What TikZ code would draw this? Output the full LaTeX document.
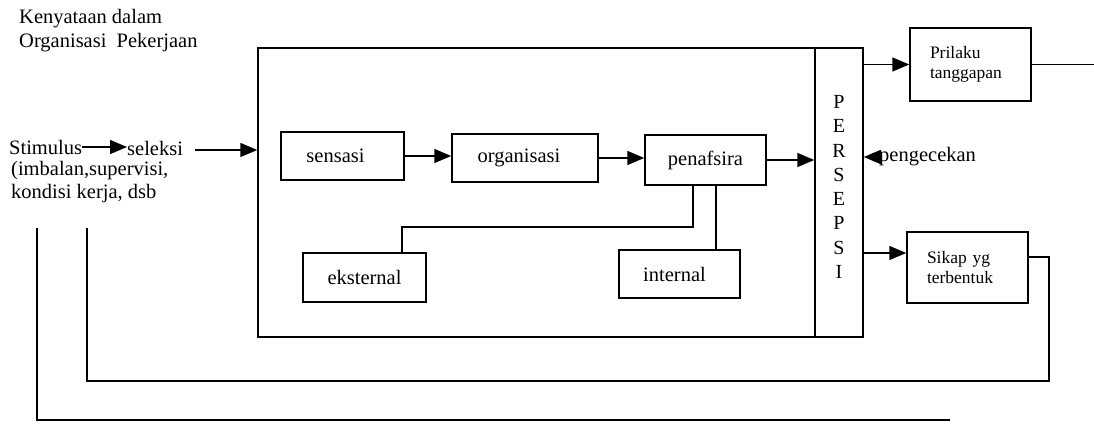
\documentclass[tikz,border=0pt]{standalone}
\usepackage{fontspec}
\setmainfont{Liberation Serif}
\usetikzlibrary{arrows.meta,calc}
\begin{document}
\begin{tikzpicture}[x=1pt,y=-1pt,
  every node/.style={inner sep=0pt},
  big/.style={font=\fontsize{20.5}{24}\selectfont},
  small/.style={font=\fontsize{17.5}{20}\selectfont},
  box/.style={draw, line width=1.5pt, align=center, big},
  sidebox/.style={draw, line width=1.5pt, align=left, small, text width=81pt, inner xsep=20pt},
  arr/.style={-{Triangle[length=17pt,width=14pt]}, line width=1.5pt},
  ln/.style={line width=1.5pt}
]
\useasboundingbox (0,0) rectangle (1094,430);

% title
\node[big, anchor=north west, align=left, font=\fontsize{20.5}{24.5}\selectfont] (title) at (19,9)
  {Kenyataan dalam\\Organisasi\ \ Pekerjaan};

% stimulus
\node[big, anchor=west] (stim) at (9,147) {Stimulus};
\node[big, anchor=west] (sel) at (127,148) {seleksi};
\node[big, anchor=north west, align=left, font=\fontsize{20.5}{23}\selectfont] (stimdesc) at (11,161)
  {(imbalan,supervisi,\\kondisi kerja, dsb};

% main frame and persepsi column
\node[draw, line width=1.5pt, minimum width=605pt, minimum height=289pt] (main) at (560.5,192.5) {};
\node[draw, line width=1.5pt, minimum width=48pt, minimum height=289pt] (persepsi) at (839,192.5) {};
\node[align=center, font=\fontsize{20}{24.3}\selectfont] (perstext) at (839,187)
  {P\\E\\R\\S\\E\\P\\S\\I};

% inner boxes
\node[box, minimum width=123pt, minimum height=48pt] (sensasi) at (342.5,156) {sensasi\hspace{14pt}};
\node[box, minimum width=146pt, minimum height=48pt] (organisasi) at (525,158) {organisasi\hspace{12pt}};
\node[box, minimum width=121pt, minimum height=50pt] (penafsira) at (705.5,160) {penafsira};
\node[box, minimum width=123pt, minimum height=49pt] (eksternal) at (364.5,277.5) {eksternal};
\node[box, minimum width=121pt, minimum height=48pt] (internal) at (679.5,274) {internal\hspace{10pt}};

% right boxes
\node[sidebox, minimum height=73pt] (prilaku) at (970.5,64.5) {Prilaku\\tanggapan};
\node[sidebox, minimum height=71pt] (sikap) at (967.5,267.5) {Sikap yg\\terbentuk};

\node[big, anchor=west] (peng) at (879,157) {pengecekan};

% connectors
\coordinate (selout) at ($(sel.east)+(12,2)$);
\draw[arr] (stim.east) -- (stim.east -| sel.west);
\draw[arr] (selout) -- (selout -| main.west);
\draw[arr] (sensasi.east) -- (sensasi.east -| organisasi.west);
\draw[arr] (organisasi.east) -- (organisasi.east -| penafsira.west);
\draw[arr] (penafsira.east) -- (penafsira.east -| persepsi.west);
\draw[arr] (peng.west) -- (peng.west -| persepsi.east);
\draw[arr] (prilaku.west -| persepsi.east) -- (prilaku.west);
\coordinate (out) at (1094,64.5);
\draw[ln] (prilaku.east) -- (out);
\draw[arr] (persepsi.east |- 0,253) -- (sikap.west |- 0,253);

\draw[ln] (penafsira.south -| 693,0) -- (693,227) -- (402,227) -- (eksternal.north -| 402,0);
\draw[ln] (penafsira.south -| 716,0) -- (internal.north -| 716,0);

% feedback loops
\coordinate (l1) at (87,228);
\coordinate (l2) at (37,228);
\coordinate (l2end) at (950,420);
\draw[ln] (sikap.east |- 0,257) -- (1049,257) -- (1049,381) -- (87,381) -- (l1);
\draw[ln] (l2) -- (37,420) -- (l2end);
\end{tikzpicture}
\end{document}
